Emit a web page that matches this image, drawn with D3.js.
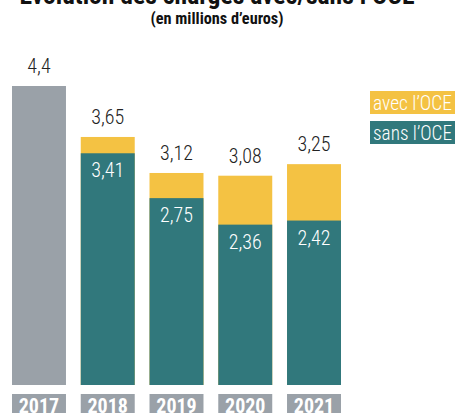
<!DOCTYPE html>
<html>
<head>
<meta charset="utf-8">
<script src="https://cdn.jsdelivr.net/npm/d3@7"></script>
<style>
  body { margin: 0; background: #fff; }
  svg { display: block; font-family: "Roboto Condensed", "Noto Sans", sans-serif; font-stretch: condensed; }
</style>
</head>
<body>
<svg class="chart"></svg>
<script>
let years = ["2017", "2018", "2019", "2020", "2021"];
let avecOCE = [4.4, 3.65, 3.12, 3.08, 3.25];
let sansOCE = [null, 3.41, 2.75, 2.36, 2.42];
let legendLabels = ["avec l\u2019OCE", "sans l\u2019OCE"];

let width = 460, height = 413;
let grey = "#9aa1a8", teal = "#31787c", yellow = "#f4c243";
let fmt = v => String(v).replace(".", ",");

let svg = d3.select(".chart")
    .attr("width", width)
    .attr("height", height);

let rows = years.map((y, i) => ({ year: y, avec: avecOCE[i], sans: sansOCE[i] }));

let x = d3.scaleBand()
    .domain(years)
    .range([12, 341])
    .paddingInner(0.215)
    .paddingOuter(0);

let y = d3.scaleLinear()
    .domain([0, 4.4])
    .range([385, 86]);

// title (cropped at the top of the picture)
svg.append("text")
    .attr("x", 217).attr("y", 4)
    .attr("text-anchor", "middle")
    .attr("font-weight", "bold")
    .attr("font-size", 26)
    .attr("textLength", 395)
    .attr("lengthAdjust", "spacingAndGlyphs")
    .attr("fill", "#111")
    .text("\u00c9volution des charges avec/sans l\u2019OCE");

svg.append("text")
    .attr("x", 217).attr("y", 24)
    .attr("text-anchor", "middle")
    .attr("font-weight", "bold")
    .attr("font-size", 16)
    .attr("textLength", 133)
    .attr("lengthAdjust", "spacingAndGlyphs")
    .attr("fill", "#111")
    .text("(en millions d\u2019euros)");

let bar = svg.selectAll(".bar")
    .data(rows)
    .enter()
    .append("g")
    .attr("class", "bar");

// full bar: grey for 2017, yellow (avec l'OCE) otherwise
bar.append("rect")
    .attr("x", d => x(d.year))
    .attr("width", x.bandwidth())
    .attr("y", d => y(d.avec))
    .attr("height", d => y(0) - y(d.avec))
    .attr("fill", d => d.sans == null ? grey : yellow);

bar.filter(d => d.sans != null).append("rect")
    .attr("x", d => x(d.year))
    .attr("width", x.bandwidth())
    .attr("y", d => y(d.sans))
    .attr("height", d => y(0) - y(d.sans))
    .attr("fill", teal);

bar.append("text")
    .attr("x", d => x(d.year) + x.bandwidth() / 2)
    .attr("y", d => y(d.avec) - 13)
    .attr("text-anchor", "middle")
    .attr("font-size", 20)
    .attr("font-weight", 300)
    .attr("fill", "#222")
    .text(d => fmt(d.avec));

bar.filter(d => d.sans != null).append("text")
    .attr("x", d => x(d.year) + x.bandwidth() / 2)
    .attr("y", d => y(d.sans) + 24)
    .attr("text-anchor", "middle")
    .attr("font-size", 20)
    .attr("font-weight", 300)
    .attr("fill", "#fff")
    .text(d => fmt(d.sans));

// year tabs
bar.append("rect")
    .attr("x", d => x(d.year))
    .attr("width", x.bandwidth())
    .attr("y", 394)
    .attr("height", 25)
    .attr("fill", grey);

bar.append("text")
    .attr("x", d => x(d.year) + x.bandwidth() / 2)
    .attr("y", 413)
    .attr("text-anchor", "middle")
    .attr("font-size", 20)
    .attr("font-weight", "bold")
    .attr("fill", "#fff")
    .text(d => d.year);

// legend
let legend = svg.selectAll(".legend")
    .data(legendLabels)
    .enter()
    .append("g")
    .attr("class", "legend")
    .attr("transform", (d, i) => "translate(370," + (91 + i * 30) + ")");

legend.append("rect")
    .attr("width", 85)
    .attr("height", 23)
    .attr("fill", (d, i) => i == 0 ? yellow : teal);

legend.append("text")
    .attr("x", 3)
    .attr("y", 19)
    .attr("font-size", 20)
    .attr("font-weight", 300)
    .attr("textLength", 79)
    .attr("lengthAdjust", "spacingAndGlyphs")
    .attr("fill", "#fff")
    .text(d => d);
</script>
</body>
</html>
